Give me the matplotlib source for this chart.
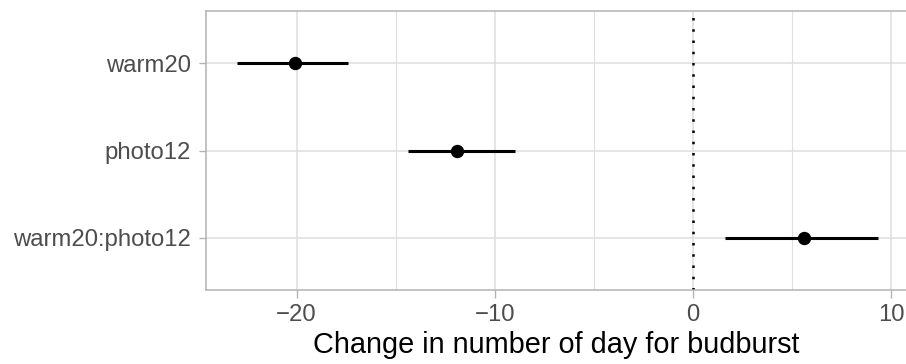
import numpy as np
import matplotlib
matplotlib.use('Agg')
import matplotlib.pyplot as plt

plt.rcParams['font.family'] = ['Liberation Sans', 'DejaVu Sans']

#%% data
terms = ['warm20', 'photo12', 'warm20:photo12']
estimate = [-20.1, -11.9, 5.6]
lower = [-23.0, -14.4, 1.6]
upper = [-17.4, -9.0, 9.3]
x_major = [-20, -10, 0, 10]
x_minor = [-15, -5, 5]

#%% plot
# panel ends right at the edge of the picture
fig = plt.figure(figsize=(9.06, 3.64), dpi=100)
ax = fig.add_axes([205.7 / 906, 73.7 / 364, 702 / 906, 279.6 / 364])

ypos = np.arange(1, len(terms) + 1)
ax.hlines(ypos, lower, upper, color='black', lw=2.2, zorder=3)
ax.plot(estimate, ypos, 'o', color='black', ms=8.6, zorder=4)
ax.axvline(0, color='black', lw=1.8, dashes=(1, 3.5), zorder=2)

ax.set_xlim(-24.58, -24.58 + 702 / 19.83)
ax.set_ylim(3.6, 0.4)
ax.set_yticks(ypos)
ax.set_yticklabels(terms)
ax.set_xticks(x_major)
ax.set_xticklabels(['\u221220', '\u221210', '0', '10'])

ax.grid(True, which='major', color='#DEDEDE', lw=1.1)
for v in x_minor:
    ax.axvline(v, color='#DEDEDE', lw=0.8, zorder=0.5)
ax.set_axisbelow(True)
for s in ax.spines.values():
    s.set_color('#B3B3B3')
    s.set_linewidth(1.1)
ax.spines['right'].set_visible(False)

ax.tick_params(which='major', length=5.4, width=1.0, color='#B3B3B3',
               labelcolor='#4D4D4D', labelsize=17.2)
ax.tick_params(axis='x', pad=4.4)
ax.tick_params(axis='y', pad=5)
ax.set_xlabel('Change in number of day for budburst', fontsize=20.8, color='black', labelpad=4)

fig.savefig('out.png', dpi=100)
